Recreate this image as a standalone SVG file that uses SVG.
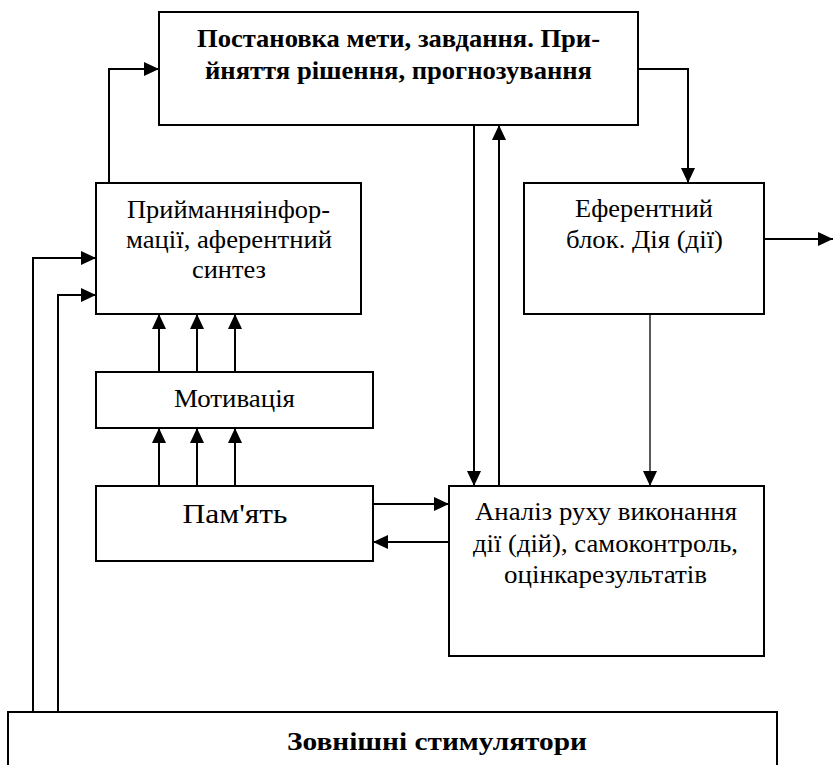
<svg xmlns="http://www.w3.org/2000/svg" width="833" height="765" viewBox="0 0 833 765">
<style>
.box{fill:#fff;stroke:#000;stroke-width:2}
.c{fill:none;stroke:#000;stroke-width:2}
.thin{stroke-width:1.3}
</style>
<defs>
<marker id="ah" markerUnits="userSpaceOnUse" markerWidth="15" markerHeight="14" viewBox="0 0 15 14" refX="15" refY="7" orient="auto">
<path d="M0,0 L15,7 L0,14 z" fill="#000"/>
</marker>
</defs>
<rect width="833" height="765" fill="#fff"/>
<g id="connectors">
<polyline class="c" points="109,183 109,69 159,69" marker-end="url(#ah)"/>
<polyline class="c" points="638,69 688,69 688,183" marker-end="url(#ah)"/>
<line class="c" x1="474" y1="125" x2="474" y2="486" marker-end="url(#ah)"/>
<line class="c" x1="499" y1="486" x2="499" y2="125" marker-end="url(#ah)"/>
<line class="c" x1="764" y1="239" x2="833" y2="239" marker-end="url(#ah)"/>
<line class="c thin" x1="650" y1="314" x2="650" y2="486" marker-end="url(#ah)"/>
<line class="c" x1="159" y1="372" x2="159" y2="314" marker-end="url(#ah)"/>
<line class="c" x1="197" y1="372" x2="197" y2="314" marker-end="url(#ah)"/>
<line class="c" x1="235" y1="372" x2="235" y2="314" marker-end="url(#ah)"/>
<line class="c" x1="159" y1="486" x2="159" y2="428" marker-end="url(#ah)"/>
<line class="c" x1="197" y1="486" x2="197" y2="428" marker-end="url(#ah)"/>
<line class="c" x1="235" y1="486" x2="235" y2="428" marker-end="url(#ah)"/>
<line class="c" x1="373" y1="504" x2="449" y2="504" marker-end="url(#ah)"/>
<line class="c" x1="449" y1="542" x2="373" y2="542" marker-end="url(#ah)"/>
<polyline class="c" points="33,712 33,258 96,258" marker-end="url(#ah)"/>
<polyline class="c" points="58,712 58,295 96,295" marker-end="url(#ah)"/>
</g>
<g font-family="Liberation Serif, Times New Roman, serif" font-size="26" text-anchor="middle" fill="#000">
<g id="goal">
<rect class="box" x="159" y="12" width="479" height="113"/>
<text font-weight="bold" x="398.5" y="47" textLength="403" lengthAdjust="spacingAndGlyphs">Постановка мети, завдання. При-</text>
<text font-weight="bold" x="398.5" y="79" textLength="387" lengthAdjust="spacingAndGlyphs">йняття рішення, прогнозування</text>
</g>
<g id="afferent">
<rect class="box" x="96" y="183" width="265" height="131"/>
<text x="228.5" y="218" textLength="203" lengthAdjust="spacingAndGlyphs">Прийманняінфор-</text>
<text x="229" y="248" textLength="206" lengthAdjust="spacingAndGlyphs">мації, аферентний</text>
<text x="229" y="278" textLength="74" lengthAdjust="spacingAndGlyphs">синтез</text>
</g>
<g id="efferent">
<rect class="box" x="524" y="183" width="240" height="131"/>
<text x="644" y="217" textLength="138" lengthAdjust="spacingAndGlyphs">Еферентний</text>
<text x="644.5" y="248" textLength="157" lengthAdjust="spacingAndGlyphs">блок. Дія (дії)</text>
</g>
<g id="motivation">
<rect class="box" x="96" y="372" width="277" height="56"/>
<text x="234.5" y="407" textLength="121" lengthAdjust="spacingAndGlyphs">Мотивація</text>
</g>
<g id="memory">
<rect class="box" x="96" y="486" width="277" height="75"/>
<text x="235" y="523" font-size="27" textLength="105" lengthAdjust="spacingAndGlyphs">Пам'ять</text>
</g>
<g id="analysis">
<rect class="box" x="449" y="486" width="315" height="170"/>
<text x="606" y="520" textLength="262" lengthAdjust="spacingAndGlyphs">Аналіз руху виконання</text>
<text x="605.5" y="552" textLength="265" lengthAdjust="spacingAndGlyphs">дії (дій), самоконтроль,</text>
<text x="605.5" y="583" textLength="203" lengthAdjust="spacingAndGlyphs">оцінкарезультатів</text>
</g>
<g id="stimuli">
<rect class="box" x="8" y="712" width="769" height="70"/>
<text font-weight="bold" x="437" y="750" textLength="300" lengthAdjust="spacingAndGlyphs">Зовнішні стимулятори</text>
</g>
</g>
</svg>
